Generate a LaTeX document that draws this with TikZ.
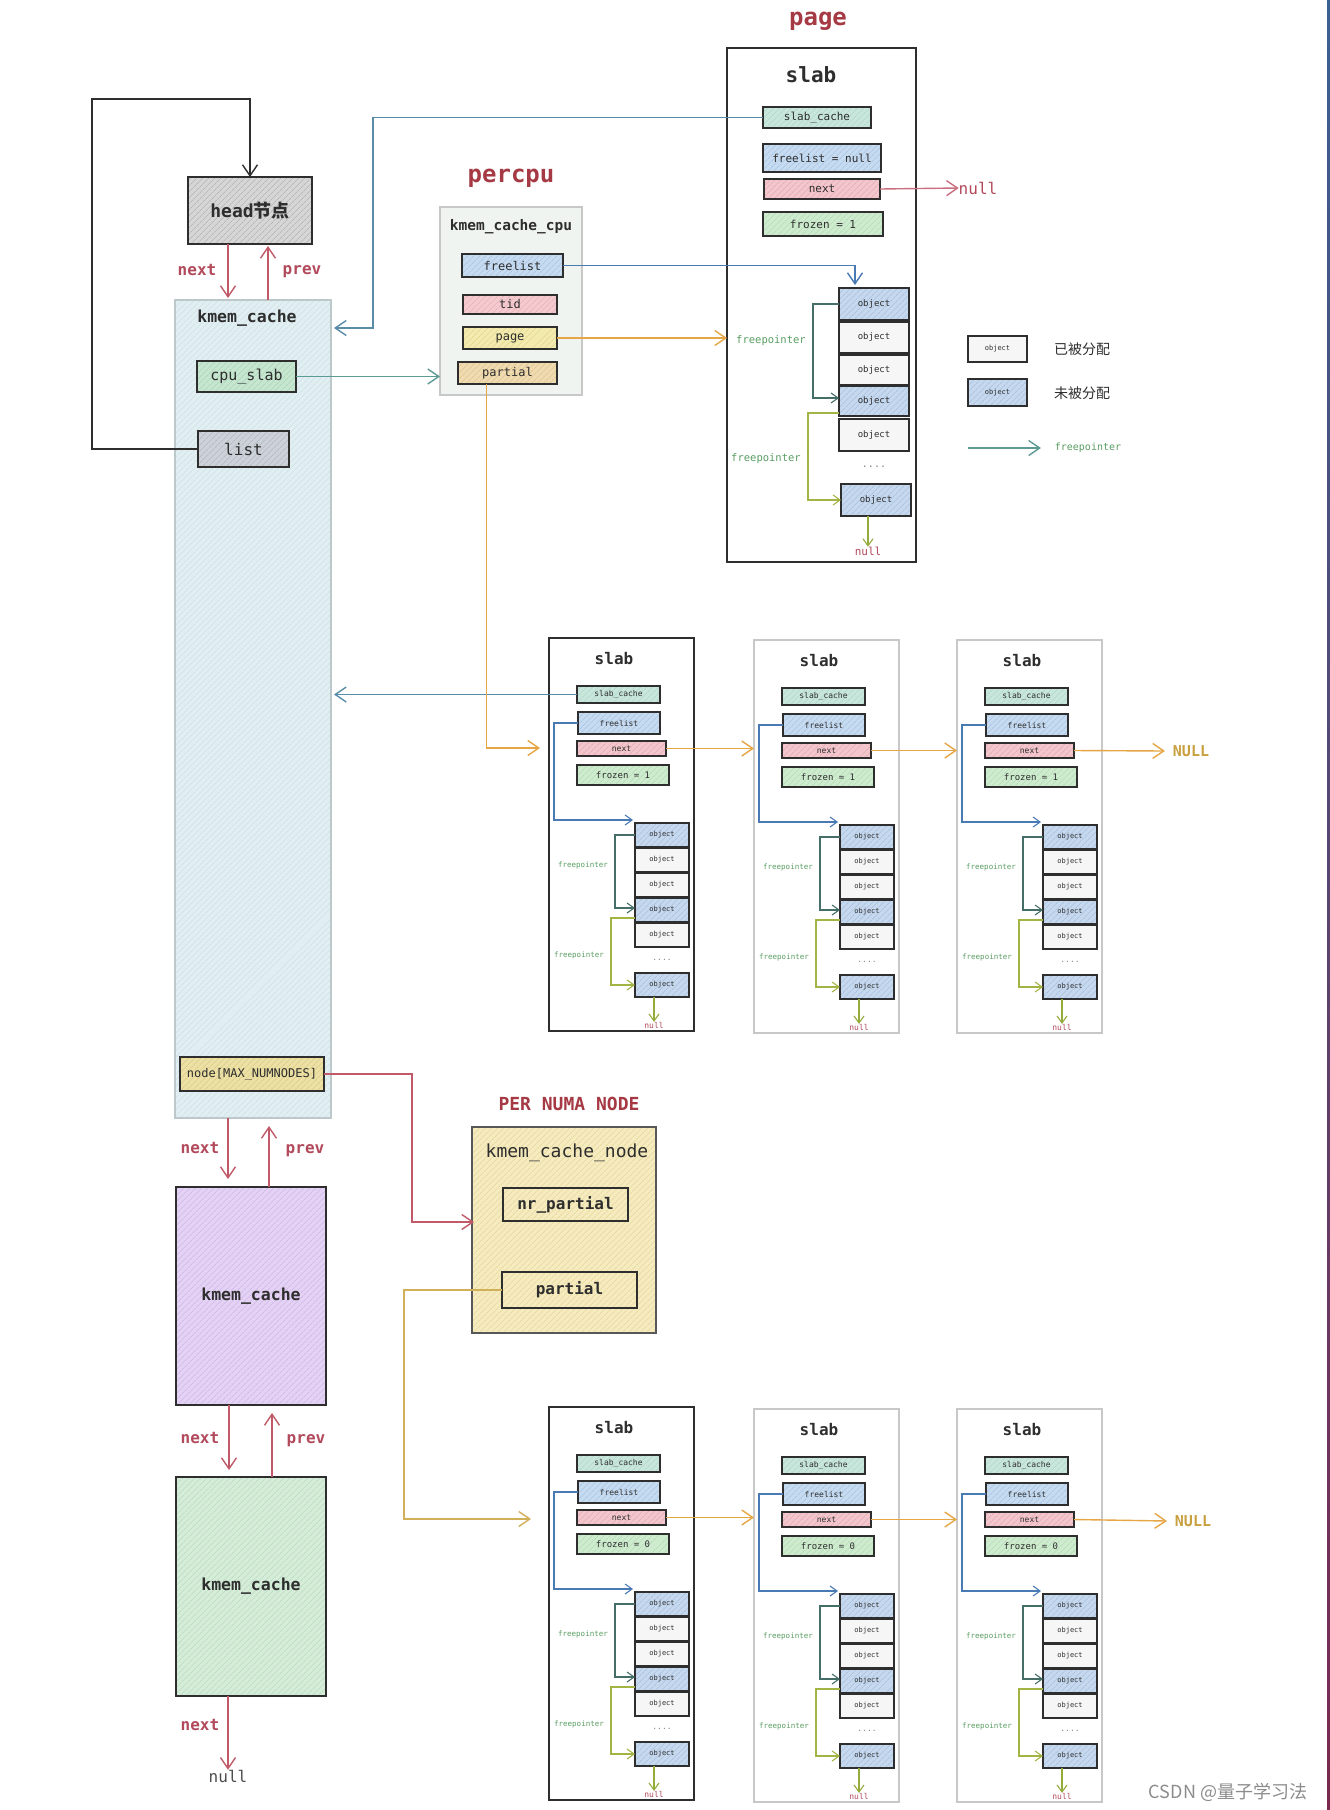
\documentclass[tikz,border=0pt]{standalone}
\usepackage{fontspec}
\setmainfont{DejaVu Sans}
\setmonofont{DejaVu Sans Mono}
\newfontfamily\cjk{Noto Sans CJK SC}
\usetikzlibrary{arrows.meta,patterns.meta}
\newcommand\fsz[1]{\fontsize{#1}{#1}\selectfont}
\newcommand\bx[7]{\node[#6,minimum width={(#4)-(#2)},minimum height={(#5)-(#3)}] (#1) at ({((#2)+(#4))/2},{((#3)+(#5))/2}) {#7};}
\definecolor{ink}{HTML}{2E2E2E}
\definecolor{lgr}{HTML}{C8C8C8}
\definecolor{ttlred}{HTML}{A63A44}
\definecolor{nxred}{HTML}{B24A5C}
\definecolor{arred}{HTML}{C05A68}
\definecolor{cBlue}{HTML}{4A7AB4}
\definecolor{cTeal}{HTML}{5C9A94}
\definecolor{cBT}{HTML}{5A8CA8}
\definecolor{cOr}{HTML}{E6A646}
\definecolor{cOl}{HTML}{D2B05A}
\definecolor{cFPa}{HTML}{466E68}
\definecolor{cFPb}{HTML}{A4B444}
\definecolor{cNul}{HTML}{94AC3C}
\definecolor{cFPt}{HTML}{5A9E62}
\definecolor{cNULL}{HTML}{C9A040}
\definecolor{cPink}{HTML}{C87080}
\definecolor{fSC}{HTML}{C9E6DC}\definecolor{hSC}{HTML}{A8D2C4}
\definecolor{fFL}{HTML}{C6DAF0}\definecolor{hFL}{HTML}{9EBEE2}
\definecolor{fNX}{HTML}{F2C6CC}\definecolor{hNX}{HTML}{E0A0AA}
\definecolor{fFZ}{HTML}{CFEBCF}\definecolor{hFZ}{HTML}{A8D8A8}
\definecolor{fTID}{HTML}{F4CACE}\definecolor{hTID}{HTML}{E2A8AE}
\definecolor{fPG}{HTML}{F2EAAE}\definecolor{hPG}{HTML}{DCCF7E}
\definecolor{fPT}{HTML}{F0DAB0}\definecolor{hPT}{HTML}{D8BC84}
\definecolor{fCPU}{HTML}{C6E6D0}\definecolor{hCPU}{HTML}{A0D0B0}
\definecolor{fLST}{HTML}{CCD2D8}\definecolor{hLST}{HTML}{A8B0B8}
\definecolor{fHD}{HTML}{D6D6D6}\definecolor{hHD}{HTML}{A8A8A8}
\definecolor{fKC}{HTML}{E2EFF2}\definecolor{hKC}{HTML}{C4DCE2}
\definecolor{fPC}{HTML}{F0F4F0}
\definecolor{fND}{HTML}{ECE0A4}\definecolor{hND}{HTML}{D4C47C}
\definecolor{fPU}{HTML}{E4D2F4}\definecolor{hPU}{HTML}{C8AEE4}
\definecolor{fGR}{HTML}{D4ECD8}\definecolor{hGR}{HTML}{B0D8B8}
\definecolor{fKCN}{HTML}{F5EBBE}\definecolor{hKCN}{HTML}{E0D090}
\definecolor{fOW}{HTML}{F6F6F6}
\definecolor{fOB}{HTML}{C6D8EE}\definecolor{hOB}{HTML}{9EB8DA}
\tikzset{
 lbl/.style={inner sep=0pt, outer sep=0pt},
 fld/.style={draw=ink, line width=1.5pt, inner sep=0pt, outer sep=0pt, text=ink},
 hat/.style={postaction={pattern={Lines[angle=45,distance=4pt,line width=0.5pt]},pattern color=#1}, postaction={draw}},
 objw/.style={fld, line width=1.6pt, fill=fOW, font=\ttfamily\fsz{7}},
 objb/.style={objw, fill=fOB, hat=hOB},
 ttl/.style={lbl, text=ttlred, font=\ttfamily\bfseries\fsz{24}},
 nxl/.style={lbl, text=nxred, font=\ttfamily\bfseries\fsz{16}},
 fpl/.style={lbl, text=cFPt, font=\ttfamily\fsz{7.5}},
 arr/.style={-{Straight Barb[length=11pt,width=15pt]}, line width=1.4pt},
 sarr/.style={-{Straight Barb[length=7pt,width=10pt]}, line width=1.1pt},
 slabbox/.style={line width=1.5pt, minimum width=145, minimum height=393, inner sep=0pt, outer sep=0pt},
}
\newcommand\smallslab[5]{%
\begin{scope}[shift={(#2,#3)}]
 \node[slabbox, draw=#4] (#1box) at (72.5,196.5) {};
 \node[lbl, font=\ttfamily\bfseries\fsz{16}, text=ink] (#1t) at (65,21) {slab};
 \bx{#1sc}{28}{48}{111}{65}{fld,fill=fSC,hat=hSC,font=\ttfamily\fsz{8}}{slab\_cache}
 \bx{#1fl}{29}{74}{111}{96}{fld,fill=fFL,hat=hFL,font=\ttfamily\fsz{8}}{freelist}
 \bx{#1nx}{28}{103}{117}{118}{fld,fill=fNX,hat=hNX,font=\ttfamily\fsz{8}}{next}
 \bx{#1fz}{28}{127}{120}{147}{fld,fill=fFZ,hat=hFZ,font=\ttfamily\fsz{9}}{#5}
 \bx{#1oa}{86}{185}{140}{209}{objb}{object}
 \bx{#1ob}{86}{210}{140}{234}{objw}{object}
 \bx{#1oc}{86}{235}{140}{259}{objw}{object}
 \bx{#1od}{86}{260}{140}{284}{objb}{object}
 \bx{#1oe}{86}{285}{140}{309}{objw}{object}
 \node[lbl, text=gray, font=\ttfamily\fsz{8}] (#1dt) at (113,322) {....};
 \bx{#1of}{86}{335}{140}{359}{objb}{object}
 \coordinate (#1in) at (84,182);
 \draw[cBlue, sarr] (#1fl.west) -- (5,85) |- (#1in);
 \draw[cFPa, sarr] (#1oa.west) -- (66,197) |- ([yshift=2pt]#1od.west);
 \draw[cFPb, sarr] ([yshift=-8pt]#1od.west) -- (62,280) |- (#1of.west);
 \node[fpl] (#1la) at (34,227) {freepointer};
 \node[fpl] (#1lb) at (30,317) {freepointer};
 \node[lbl, text=nxred, font=\ttfamily\fsz{8}] (#1nl) at (105,387) {null};
 \draw[cNul, sarr] (#1of.south -| #1nl) -- (#1nl.north);
\end{scope}}
\begin{document}
\begin{tikzpicture}[x=1pt,y=-1pt]
\fill[white] (0,0) rectangle (1330,1810);
\useasboundingbox (0,0) rectangle (1330,1810);
\shade[top color={rgb,255:red,58;green,96;blue,144}, bottom color={rgb,255:red,122;green,40;blue,80}] (1327,0) rectangle (1330,1810);

% ---------- titles ----------
\node[ttl] (tpage) at (818,21) {page};
\node[ttl] (tpcpu) at (511,178) {percpu};
\node[ttl, font=\ttfamily\bfseries\fsz{18}] (tnuma) at (569,1104) {PER NUMA NODE};

% ---------- left column ----------
\bx{head}{188}{177}{312}{244}{fld,line width=1.8pt,fill=fHD,hat=hHD,font=\ttfamily\bfseries\fsz{18}}{head{\cjk 节点}}
\bx{kc}{175}{300}{331}{1118}{draw={rgb,255:red,188;green,200;blue,202},line width=1.3pt,fill=fKC,hat=hKC,inner sep=0pt,outer sep=0pt}{}
\node[lbl, font=\ttfamily\bfseries\fsz{16.5}, text=ink] (kct) at (247,318) {kmem\_cache};
\bx{cpu}{197}{361}{296}{392}{fld,fill=fCPU,hat=hCPU,font=\ttfamily\fsz{15}}{cpu\_slab}
\bx{lst}{198}{431}{289}{467}{fld,fill=fLST,hat=hLST,font=\ttfamily\fsz{16}}{list}
\bx{nd}{180}{1057}{324}{1091}{fld,fill=fND,hat=hND,font=\ttfamily\fsz{12}}{node[MAX\_NUMNODES]}
\bx{pu}{176}{1187}{326}{1405}{fld,line width=1.7pt,fill=fPU,hat=hPU,font=\ttfamily\bfseries\fsz{16.5}}{kmem\_cache}
\bx{gr}{176}{1477}{326}{1696}{fld,line width=1.7pt,fill=fGR,hat=hGR,font=\ttfamily\bfseries\fsz{16.5}}{kmem\_cache}

% loop list -> head
\draw[ink, arr] (lst.west) -| (92,99) -| (head.north);
% head <-> kmem_cache
\coordinate (hn) at (228,298);
\coordinate (hp) at (268,246);
\draw[arred, arr] (head.south -| hn) -- (hn);
\draw[arred, arr] (kc.north -| hp) -- (hp);
\node[nxl] (lnx1) at (197,270) {next};
\node[nxl] (lpv1) at (302,272) {prev};
% kmem_cache <-> purple
\coordinate (hn2) at (228,1179);
\coordinate (hp2) at (269,1126);
\draw[arred, arr] (kc.south -| hn2) -- (hn2);
\draw[arred, arr] (pu.north -| hp2) -- (hp2);
\node[nxl] (lnx2) at (200,1148) {next};
\node[nxl] (lpv2) at (305,1151) {prev};
% purple <-> green
\coordinate (hn3) at (229,1470);
\coordinate (hp3) at (272,1413);
\draw[arred, arr] (pu.south -| hn3) -- (hn3);
\draw[arred, arr] (gr.north -| hp3) -- (hp3);
\node[nxl] (lnx3) at (200,1438) {next};
\node[nxl] (lpv3) at (306,1441) {prev};
% green -> null
\node[lbl, text=ink!85, font=\ttfamily\fsz{16}] (gnul) at (228,1776) {null};
\draw[arred, arr] (gr.south -| gnul) -- (gnul.north);
\node[nxl] (lnx4) at (200,1725) {next};

% ---------- percpu ----------
\bx{pc}{440}{207}{582}{395}{draw=lgr,line width=1.2pt,fill=fPC,inner sep=0pt,outer sep=0pt}{}
\node[lbl, font=\ttfamily\bfseries\fsz{14.5}, text=ink] (pct) at (511,227) {kmem\_cache\_cpu};
\bx{pfl}{462}{254}{563}{277}{fld,fill=fFL,hat=hFL,font=\ttfamily\fsz{12}}{freelist}
\bx{ptd}{463}{295}{557}{314}{fld,fill=fTID,hat=hTID,font=\ttfamily\fsz{12}}{tid}
\bx{ppg}{463}{327}{557}{349}{fld,fill=fPG,hat=hPG,font=\ttfamily\fsz{12}}{page}
\bx{ppt}{458}{362}{557}{384}{fld,fill=fPT,hat=hPT,font=\ttfamily\fsz{12}}{partial}

\draw[cTeal, arr] (cpu.east) -- (cpu.east -| pc.west);

% ---------- page slab ----------
\bx{pslab}{727}{48}{916}{562}{draw=ink,line width=1.7pt,inner sep=0pt,outer sep=0pt}{}
\node[lbl, font=\ttfamily\bfseries\fsz{21}, text=ink] (pst) at (811,75) {slab};
\bx{psc}{763}{107}{871}{128}{fld,fill=fSC,hat=hSC,font=\ttfamily\fsz{11}}{slab\_cache}
\bx{pfn}{763}{144}{881}{172}{fld,fill=fFL,hat=hFL,font=\ttfamily\fsz{11}}{freelist = null}
\bx{pnx}{764}{179}{880}{199}{fld,fill=fNX,hat=hNX,font=\ttfamily\fsz{11}}{next}
\bx{pfz}{763}{212}{883}{236}{fld,fill=fFZ,hat=hFZ,font=\ttfamily\fsz{11}}{frozen = 1}
\bx{poa}{839}{288}{909}{320}{objb,font=\ttfamily\fsz{9}}{object}
\bx{pob}{839}{322}{909}{353}{objw,font=\ttfamily\fsz{9}}{object}
\bx{poc}{839}{355}{909}{385}{objw,font=\ttfamily\fsz{9}}{object}
\bx{pod}{839}{386}{909}{416}{objb,font=\ttfamily\fsz{9}}{object}
\bx{poe}{839}{419}{909}{451}{objw,font=\ttfamily\fsz{9}}{object}
\node[lbl, text=gray, font=\ttfamily\fsz{10}] (pdt) at (874,467) {....};
\bx{pof}{841}{484}{911}{516}{objb,font=\ttfamily\fsz{9}}{object}
\node[lbl, text=nxred, font=\ttfamily\fsz{11}] (pnl) at (868,551) {null};
\draw[cNul, sarr] (pof.south -| pnl) -- (pnl.north);
\draw[cFPa, sarr] (poa.west) -- (813,304) |- ([yshift=3pt]pod.west);
\draw[cFPb, sarr] ([yshift=-12pt]pod.west) -- (808,413) |- (pof.west);
\node[fpl, font=\ttfamily\fsz{10.5}] (pfa) at (771,341) {freepointer};
\node[fpl, font=\ttfamily\fsz{10.5}] (pfb) at (766,459) {freepointer};
\node[lbl, text=nxred, font=\ttfamily\fsz{16}] (pnul) at (978,188) {null};
\draw[cPink, arr] (pnx.east) -- (pnul.west);

% connectors percpu <-> page slab, kmem_cache
\coordinate (pin) at (855,285);
\draw[cBlue, arr] (pfl.east) -| (pin);
\draw[cOr, arr] (ppg.east) -- (ppg.east -| pslab.west);
\coordinate (kcin) at (334,328);
\draw[cBT, arr] (psc.west) -| (373,328) -- (kcin);

% ---------- legend ----------
\bx{lgw}{968}{336}{1027}{362}{objw,font=\ttfamily\fsz{7}}{object}
\node[lbl, text=ink, font=\cjk\fsz{14}] (lgwt) at (1082,349) {已被分配};
\bx{lgb}{968}{379}{1027}{406}{objb,font=\ttfamily\fsz{7}}{object}
\node[lbl, text=ink, font=\cjk\fsz{14}] (lgbt) at (1082,393) {未被分配};
\coordinate (lga) at (968,448);
\node[fpl, font=\ttfamily\fsz{10}] (lgat) at (1088,448) {freepointer};
\draw[cTeal, arr] (lga) -- ([xshift=-14pt]lgat.west);

% ---------- middle slab row ----------
\smallslab{ma}{549}{638}{ink}{frozen = 1}
\smallslab{mb}{754}{640}{lgr}{frozen = 1}
\smallslab{mc}{957}{640}{lgr}{frozen = 1}
\draw[cOr, arr] (manx.east) -- (manx.east -| mbbox.west);
\draw[cOr, arr] (mbnx.east) -- (mbnx.east -| mcbox.west);
\node[lbl, text=cNULL, font=\ttfamily\bfseries\fsz{15}] (mN) at (1191,751) {NULL};
\draw[cOr, arr] (mcnx.east) -- ([xshift=-8pt]mN.west);
\draw[cBT, arr] (masc.west) -- ([xshift=3pt]masc.west -| kc.east);
\coordinate (min) at (540,748);
\draw[cOr, arr] ([xshift=-21pt]ppt.south) |- (min);

% ---------- numa node ----------
\bx{kcn}{472}{1127}{656}{1333}{fld,draw=ink!80,line width=1.6pt,fill=fKCN,hat=hKCN}{}
\node[lbl, font=\ttfamily\fsz{18}, text=ink] (kcnt) at (567,1153) {kmem\_cache\_node};
\bx{knr}{503}{1188}{628}{1221}{fld,font=\ttfamily\bfseries\fsz{16}}{nr\_partial}
\bx{kpt}{502}{1272}{637}{1308}{fld,font=\ttfamily\bfseries\fsz{16}}{partial}
\coordinate (kin) at (474,1222);
\draw[arred, arr] (nd.east) -| (412,1222) -- (kin);

% ---------- bottom slab row ----------
\smallslab{ba}{549}{1407}{ink}{frozen = 0}
\smallslab{bb}{754}{1409}{lgr}{frozen = 0}
\smallslab{bc}{957}{1409}{lgr}{frozen = 0}
\draw[cOr, arr] (banx.east) -- (banx.east -| bbbox.west);
\draw[cOr, arr] (bbnx.east) -- (bbnx.east -| bcbox.west);
\node[lbl, text=cNULL, font=\ttfamily\bfseries\fsz{15}] (bN) at (1193,1521) {NULL};
\draw[cOr, arr] (bcnx.east) -- ([xshift=-8pt]bN.west);
\coordinate (bin) at (531,1519);
\draw[cOl, arr] (kpt.west) -| (404,1519) -- (bin);

% watermark
\node[lbl, text=gray!90, font=\cjk\fsz{18}] (wm) at (1228,1792) {CSDN @量子学习法};
\end{tikzpicture}
\end{document}
